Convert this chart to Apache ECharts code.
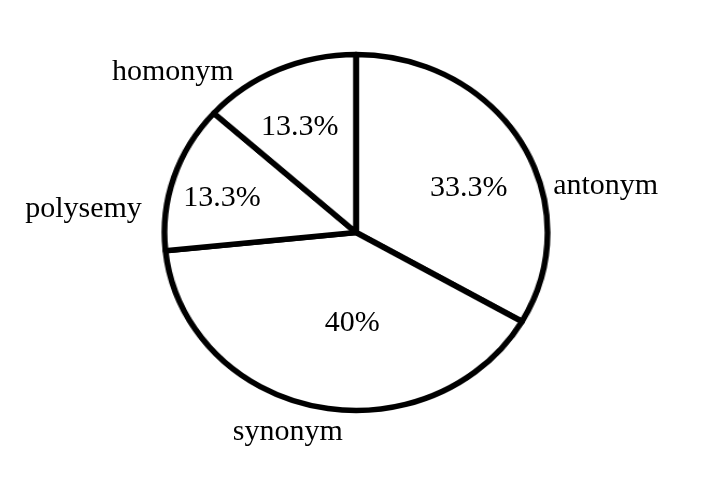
<!DOCTYPE html>
<html>
<head>
<meta charset="utf-8">
<script src="https://cdn.jsdelivr.net/npm/echarts@6/dist/echarts.min.js"></script>
<style>
  html, body { margin: 0; padding: 0; background: #ffffff; }
  #wrap { position: relative; width: 720px; height: 483px; background: #ffffff; }
  #shapes, #labels { position: absolute; left: 0; top: 0; width: 720px; height: 483px; }
  /* the reference pie is drawn slightly wider than tall */
  #shapes { transform: scaleX(1.076); transform-origin: 356px 232.5px; }
</style>
</head>
<body>
<div id="wrap">
  <div id="shapes"></div>
  <div id="labels"></div>
</div>
<script>
// Data
const categories = ['antonym', 'synonym', 'polysemy', 'homonym'];
const percentValues = [33.3, 40, 13.3, 13.3];
const percentLabels = ['33.3%', '40%', '13.3%', '13.3%'];

// Label nudges (styling, relative to ECharts default placement)
const insideNudge = [[33, 2], [15.5, 1], [-46.5, -6], [-19, -21]];
const outsideNudge = [[43, 43], [24, 26], [-45, 32], [-50, 2]];

const pieData = categories.map((name, i) => ({ name: name, value: percentValues[i] }));
const font = { fontFamily: '"Liberation Serif", "Times New Roman", serif', fontSize: 30, color: '#000' };
const pieGeom = { center: [356, 232.5], radius: 178, startAngle: 90, clockwise: true };

// Layer 1: the pie itself
const shapes = echarts.init(document.getElementById('shapes'), null, { renderer: 'canvas' });
shapes.setOption({
  animation: false,
  series: [Object.assign({
    type: 'pie',
    silent: true,
    avoidLabelOverlap: false,
    data: pieData,
    itemStyle: { color: '#ffffff', borderColor: '#000000', borderWidth: 5.5 },
    label: { show: false },
    labelLine: { show: false },
    emphasis: { disabled: true }
  }, pieGeom)]
});

// Layer 2: the labels, placed from the same pie geometry
const labels = echarts.init(document.getElementById('labels'), null, { renderer: 'canvas' });
labels.setOption({
  animation: false,
  series: [
    Object.assign({
      type: 'pie',
      silent: true,
      avoidLabelOverlap: false,
      data: pieData,
      itemStyle: { color: 'rgba(0,0,0,0)', borderWidth: 0 },
      label: Object.assign({
        show: true,
        position: 'inside',
        formatter: (p) => percentLabels[p.dataIndex]
      }, font),
      labelLine: { show: false },
      labelLayout: (p) => ({ dx: insideNudge[p.dataIndex][0], dy: insideNudge[p.dataIndex][1] }),
      emphasis: { disabled: true }
    }, pieGeom),
    Object.assign({
      type: 'pie',
      silent: true,
      avoidLabelOverlap: false,
      data: pieData,
      itemStyle: { color: 'rgba(0,0,0,0)', borderWidth: 0 },
      label: Object.assign({
        show: true,
        position: 'outside',
        distanceToLabelLine: 0,
        formatter: '{b}'
      }, font),
      labelLine: { show: false, length: 0, length2: 0 },
      labelLayout: (p) => ({ dx: outsideNudge[p.dataIndex][0], dy: outsideNudge[p.dataIndex][1] }),
      emphasis: { disabled: true }
    }, pieGeom)
  ]
});
</script>
</body>
</html>
